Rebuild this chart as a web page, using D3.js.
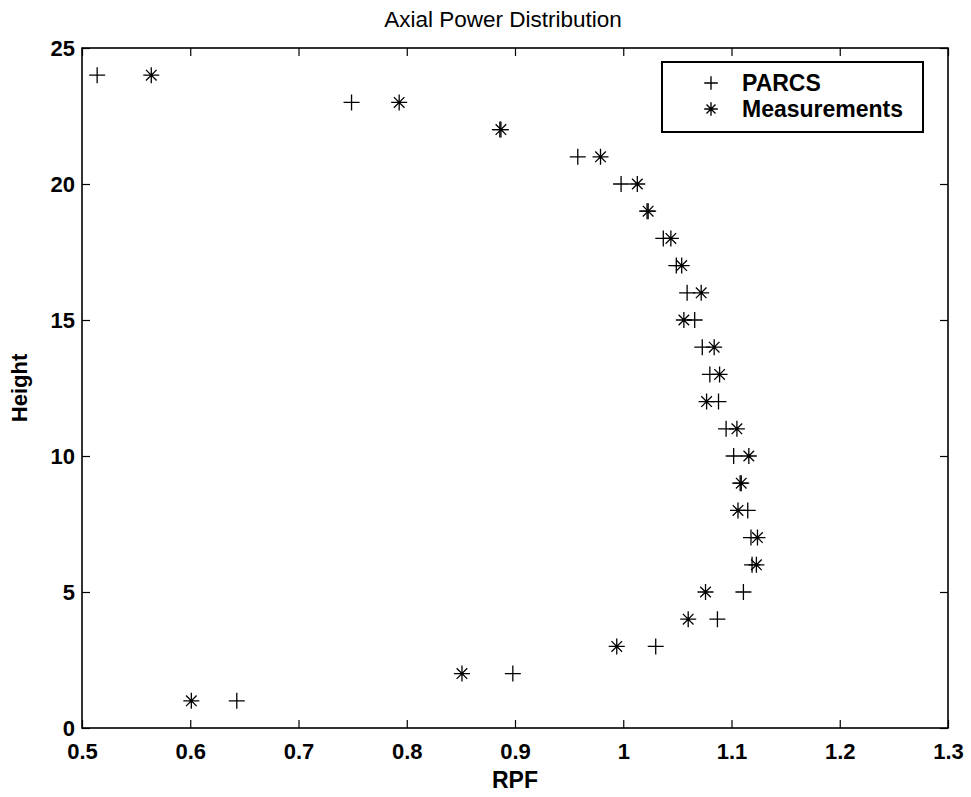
<!DOCTYPE html>
<html><head><meta charset="utf-8">
<script src="https://cdn.jsdelivr.net/npm/d3@7"></script>
<style>body{margin:0;background:#fff}svg{display:block}</style></head>
<body><svg id="c" width="971" height="797"></svg>
<script>
const heights = [24,23,22,21,20,19,18,17,16,15,14,13,12,11,10,9,8,7,6,5,4,3,2,1];
const parcs = [0.514,0.749,0.886,0.958,0.998,1.022,1.037,1.049,1.059,1.066,1.073,1.080,1.088,1.095,1.102,1.108,1.115,1.118,1.119,1.111,1.087,1.030,0.898,0.643];
const measurements = [0.564,0.793,0.887,0.979,1.013,1.023,1.044,1.054,1.072,1.056,1.084,1.089,1.077,1.105,1.116,1.109,1.106,1.124,1.123,1.076,1.060,0.994,0.851,0.601];
const xTicks = [0.5,0.6,0.7,0.8,0.9,1.0,1.1,1.2,1.3];
const xTickLabels = ["0.5","0.6","0.7","0.8","0.9","1","1.1","1.2","1.3"];
const yTicks = [0,5,10,15,20,25];
const yTickLabels = ["0","5","10","15","20","25"];
const seriesNames = ["PARCS","Measurements"];
const titleText = "Axial Power Distribution";
const xLabel = "RPF", yLabel = "Height";

const W = 971, H = 797;
const m = {l:82, t:48, r:23, b:69};
const iw = W - m.l - m.r, ih = H - m.t - m.b;
const svg = d3.select("#c");
const font = "Arial, 'Liberation Sans', Helvetica, sans-serif";
const x = d3.scaleLinear().domain([0.5,1.3]).range([0, iw]);
const y = d3.scaleLinear().domain([0,25]).range([ih, 0]);
const g = svg.append("g").attr("transform", `translate(${m.l},${m.t})`);

function styleAxis(sel, showLabels) {
  sel.select(".domain").remove();
  sel.selectAll(".tick line").attr("stroke","#000").attr("stroke-width",1.2);
  sel.selectAll(".tick text").attr("fill","#000").style("font-family",font)
     .style("font-size","22px").style("font-weight","bold");
  if (!showLabels) sel.selectAll(".tick text").remove();
}
const fx = (d,i) => xTickLabels[xTicks.indexOf(d)];
const fy = (d) => yTickLabels[yTicks.indexOf(d)];
g.append("g").attr("transform",`translate(0,${ih})`)
  .call(d3.axisBottom(x).tickValues(xTicks).tickFormat(fx).tickSize(-8).tickPadding(15))
  .call(s=>styleAxis(s,true));
g.append("g")
  .call(d3.axisTop(x).tickValues(xTicks).tickSize(-8))
  .call(s=>styleAxis(s,false));
g.append("g")
  .call(d3.axisLeft(y).tickValues(yTicks).tickFormat(fy).tickSize(-8).tickPadding(7))
  .call(s=>styleAxis(s,true));
g.append("g").attr("transform",`translate(${iw},0)`)
  .call(d3.axisRight(y).tickValues(yTicks).tickSize(-8))
  .call(s=>styleAxis(s,false));

g.append("rect").attr("width",iw).attr("height",ih).attr("fill","none")
  .attr("stroke","#000").attr("stroke-width",1.6);

const plusPath = "M-8,0H8M0,-8V8";
const starPath = "M-8,0H8M0,-8V8M-5.3,-5.3L5.3,5.3M-5.3,5.3L5.3,-5.3";

g.append("g").selectAll("path").data(heights).join("path")
  .attr("d", plusPath)
  .attr("transform",(d,i)=>`translate(${x(parcs[i])},${y(d)})`)
  .attr("stroke","#000").attr("stroke-width",1.3).attr("fill","none");
g.append("g").selectAll("path").data(heights).join("path")
  .attr("d", starPath)
  .attr("transform",(d,i)=>`translate(${x(measurements[i])},${y(d)})`)
  .attr("stroke","#000").attr("stroke-width",1.3).attr("fill","none");

// legend
const lg = svg.append("g").attr("transform","translate(662,62)");
lg.append("rect").attr("width",261).attr("height",70).attr("fill","#fff")
  .attr("stroke","#000").attr("stroke-width",2);
[plusPath, starPath].forEach((p,i)=>{
  lg.append("path").attr("d",p).attr("transform",`translate(49,${21+i*26}) scale(0.85)`)
    .attr("stroke","#000").attr("stroke-width",1.6).attr("fill","none");
  lg.append("text").attr("x",80).attr("y",29+i*26).text(seriesNames[i])
    .style("font-family",font).style("font-size","23px").style("font-weight","bold");
});

svg.append("text").attr("x", m.l+iw/2 - 12).attr("y", 27).attr("text-anchor","middle")
  .text(titleText).style("font-family",font).style("font-size","22.5px");
svg.append("text").attr("x", m.l+iw/2).attr("y", 788).attr("text-anchor","middle")
  .text(xLabel).style("font-family",font).style("font-size","23px").style("font-weight","bold");
svg.append("text").attr("transform",`translate(27,${m.t+ih/2}) rotate(-90)`).attr("text-anchor","middle")
  .text(yLabel).style("font-family",font).style("font-size","22px").style("font-weight","bold");
</script></body></html>
